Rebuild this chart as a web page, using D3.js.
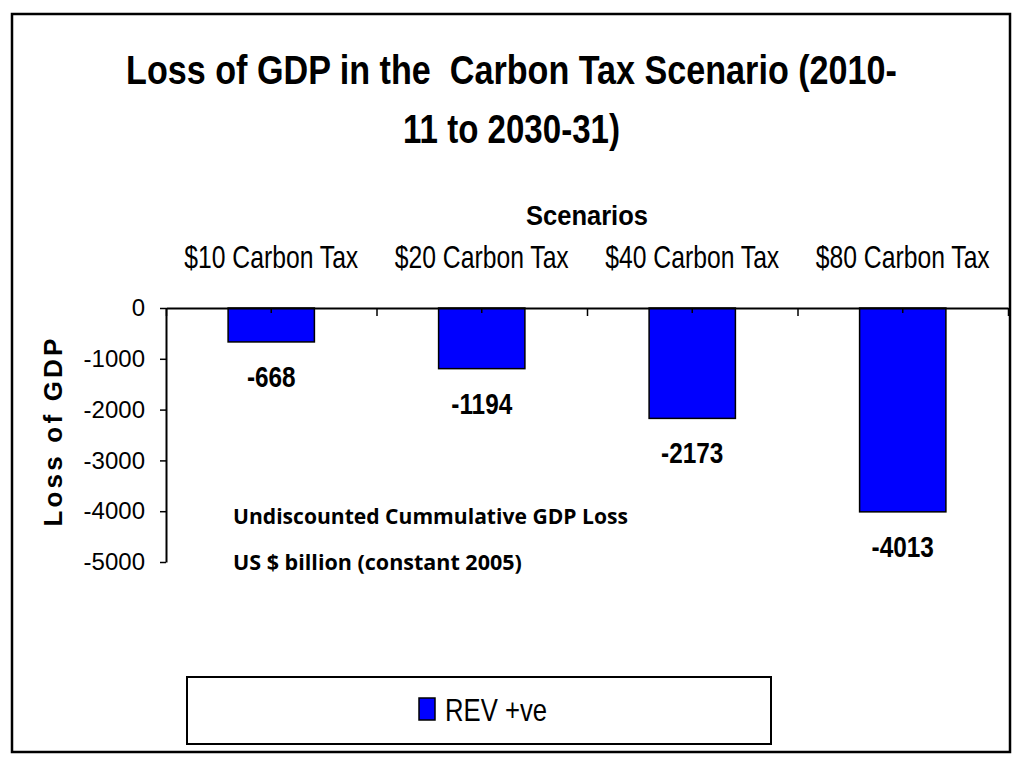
<!DOCTYPE html>
<html>
<head>
<meta charset="utf-8">
<script src="https://cdn.jsdelivr.net/npm/d3@7"></script>
<style>
  html, body { margin: 0; padding: 0; background: #fff; }
  svg text { font-family: "Liberation Sans", Arial, sans-serif; white-space: pre; }
</style>
</head>
<body>
<div id="chart"></div>
<script>
// Daten
const categories = ["$10 Carbon Tax", "$20 Carbon Tax", "$40 Carbon Tax", "$80 Carbon Tax"];
const gdpLoss = [-668, -1194, -2173, -4013];
const yTicks = [0, -1000, -2000, -3000, -4000, -5000];
const titleLines = ["Loss of GDP in the  Carbon Tax Scenario (2010-", "11 to 2030-31)"];
const noteLines = ["Undiscounted Cummulative GDP Loss", "US $ billion (constant 2005)"];
const seriesName = "REV +ve";

const width = 1024, height = 768;
const plot = { left: 166, right: 1008, top: 308, bottom: 562 };

const svg = d3.select("#chart").append("svg")
  .attr("width", width)
  .attr("height", height);

// Rahmen um die ganze Grafik
svg.append("rect")
  .attr("x", 12).attr("y", 14)
  .attr("width", 998).attr("height", 738)
  .attr("fill", "none")
  .attr("stroke", "#000")
  .attr("stroke-width", 2.5);

// Schmaler Text: in eine Gruppe setzen und horizontal stauchen (Faktor k oder Zielbreite w)
function narrowText(parent, x, y, str, size, anchor, styles) {
  const g = parent.append("g");
  const t = g.append("text")
    .attr("text-anchor", anchor)
    .text(str);
  Object.entries(styles).forEach(([k, v]) => t.style(k, v));
  const k = size.w ? size.w / t.node().getComputedTextLength() : size.k;
  g.attr("transform", `translate(${x},${y}) scale(${k},1)`);
  return t;
}

// Titel
const titleY = [84, 143];
const titleW = [771, 217];
titleLines.forEach((t, i) => {
  narrowText(svg, 511.5, titleY[i], t, { w: titleW[i] }, "middle", { "font-size": "41px", "font-weight": "bold" });
});

// Skalen
const x = d3.scaleBand()
  .domain(categories)
  .range([plot.left, plot.right])
  .paddingInner(0.59)
  .paddingOuter(0.295);

const xEdges = d3.scaleLinear()
  .domain([0, categories.length])
  .range([plot.left, plot.right]);

const y = d3.scaleLinear()
  .domain([0, -5000])
  .range([plot.top, plot.bottom]);

// Balken
svg.selectAll("rect.bar")
  .data(gdpLoss)
  .enter()
  .append("rect")
  .attr("class", "bar")
  .attr("x", (d, i) => x(categories[i]))
  .attr("y", y(0))
  .attr("width", x.bandwidth())
  .attr("height", d => y(d) - y(0))
  .attr("fill", "#0000ff")
  .attr("stroke", "#000")
  .attr("stroke-width", 1.5);

// X-Achse (Nulllinie) mit Strichen zwischen den Kategorien
svg.append("g")
  .attr("transform", `translate(0,${y(0)})`)
  .call(d3.axisBottom(xEdges).tickValues(d3.range(categories.length + 1)).tickFormat("").tickSize(8).tickSizeOuter(0))
  .call(g => g.select(".domain").attr("stroke-width", 2))
  .call(g => g.selectAll(".tick line").attr("stroke-width", 1.5));

// kleine Striche in der Mitte der Kategorien
svg.append("g")
  .attr("transform", `translate(0,${y(0)})`)
  .call(d3.axisBottom(x).tickFormat("").tickSize(5).tickSizeOuter(0))
  .call(g => g.select(".domain").remove())
  .call(g => g.selectAll(".tick line").attr("stroke-width", 1.5));

// Kategorien oben
categories.forEach(c => {
  narrowText(svg, x(c) + x.bandwidth() / 2, 268, c, { w: 174 }, "middle", { "font-size": "32px" });
});

// Achsentitel oben
narrowText(svg, (plot.left + plot.right) / 2, 225, "Scenarios", { w: 122 }, "middle", { "font-size": "27px", "font-weight": "bold" });

// Y-Achse
svg.append("g")
  .attr("transform", `translate(${plot.left},0)`)
  .call(d3.axisLeft(y).tickValues(yTicks).tickSize(6).tickPadding(15).tickSizeOuter(0).tickFormat(d3.format("d")))
  .call(g => g.select(".domain").attr("stroke-width", 2))
  .call(g => g.selectAll(".tick line").attr("stroke-width", 1.5))
  .call(g => g.selectAll(".tick text")
    .attr("fill", "#000")
    .style("font-family", "'Liberation Sans', Arial, sans-serif")
    .style("font-size", "24px")
    .text(d => d === 0 ? "0" : "-" + Math.abs(d)));

// Y-Achsentitel
svg.append("text")
  .attr("transform", `translate(62,431) rotate(-90)`)
  .attr("text-anchor", "middle")
  .style("font-size", "26px")
  .style("font-weight", "bold")
  .style("letter-spacing", "3.2px")
  .text("Loss of GDP");

// Werte unter den Balken
gdpLoss.forEach((d, i) => {
  narrowText(svg, x(categories[i]) + x.bandwidth() / 2, y(d) + 45, "-" + Math.abs(d), { k: 0.84 }, "middle",
    { "font-size": "29px", "font-weight": "bold" });
});

// Hinweistext
const noteY = [524, 570];
const noteW = [395, 289];
noteLines.forEach((t, i) => {
  narrowText(svg, 233, noteY[i], t, { w: noteW[i] }, "start",
    { "font-family": "'Open Sans', 'Liberation Sans', sans-serif", "font-size": "22px", "font-weight": "bold" });
});

// Legende
const legend = svg.append("g");
legend.append("rect")
  .attr("x", 187).attr("y", 677)
  .attr("width", 584).attr("height", 67)
  .attr("fill", "#fff")
  .attr("stroke", "#000")
  .attr("stroke-width", 2);
legend.append("rect")
  .attr("x", 419).attr("y", 698)
  .attr("width", 16).attr("height", 22)
  .attr("fill", "#0000ff")
  .attr("stroke", "#000")
  .attr("stroke-width", 1.5);
narrowText(legend, 445, 721, seriesName, { w: 102 }, "start", { "font-size": "32px" });
</script>
</body>
</html>
